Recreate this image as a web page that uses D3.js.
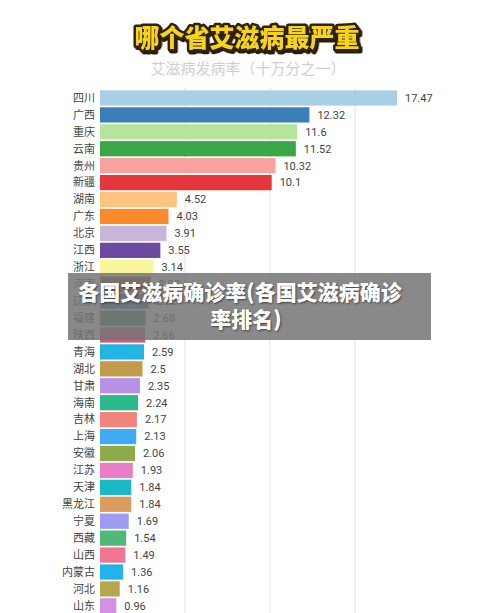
<!DOCTYPE html>
<html><head><meta charset="utf-8">
<script src="https://cdn.jsdelivr.net/npm/d3@7"></script>
<style>
html,body{margin:0;padding:0;background:#fff;}
svg{display:block;font-family:"Noto Sans CJK SC","Noto Sans",sans-serif;}
</style></head>
<body>
<svg id="c" width="500" height="613"></svg>
<script>
const provinces = ["四川","广西","重庆","云南","贵州","新疆","湖南","广东","北京","江西","浙江","河南","辽宁","福建","陕西","青海","湖北","甘肃","海南","吉林","上海","安徽","江苏","天津","黑龙江","宁夏","西藏","山西","内蒙古","河北","山东"];
const rates = [17.47,12.32,11.6,11.52,10.32,10.1,4.52,4.03,3.91,3.55,3.14,2.98,2.85,2.68,2.66,2.59,2.5,2.35,2.24,2.17,2.13,2.06,1.93,1.84,1.84,1.69,1.54,1.49,1.36,1.16,0.96];
const barColors = ["#a8cfe3","#3a7fb8","#b5e59a","#3aa645","#f7a1a1","#e4363b","#fcc381","#fb8a2b","#c8b5da","#6c4aa0","#f9f59a","#9a4a22","#4a6ab5","#3e8b50","#d05a84","#22b5e3","#c19b4a","#b990e8","#2bb88c","#f2857b","#40abf5","#8eab4c","#ea7ec6","#1bb8c5","#df9a5e","#9b9cf2","#52b87a","#ef7590","#22b2ec","#b6a64d","#d391e3"];
const gridTicks = [5,10,15];
const titleText = "哪个省艾滋病最严重";
const subtitleText = "艾滋病发病率（十万分之一）";
const overlayLines = ["各国艾滋病确诊率(各国艾滋病确诊","率排名)"];

const svg = d3.select("#c");
const defs = svg.append("defs");
const f = defs.append("filter").attr("id","ts").attr("x","-10%").attr("y","-30%").attr("width","120%").attr("height","160%");
f.append("feDropShadow").attr("dx",1.5).attr("dy",2).attr("stdDeviation",0.3).attr("flood-color","#2a1e05").attr("flood-opacity",1);

const x = d3.scaleLinear().domain([0,5]).range([100,185]);
const y = d3.scaleBand().domain(provinces).range([89.5, 89.5 + 31*16.93]).paddingInner(0.1).paddingOuter(0.05);

// gridlines
svg.append("g").selectAll("line").data(gridTicks).join("line")
  .attr("x1", d=>x(d)).attr("x2", d=>x(d))
  .attr("y1", 88).attr("y2", 613)
  .attr("stroke","#e6e6e6").attr("stroke-width",1.2);

// bars
svg.append("g").selectAll("rect").data(provinces).join("rect")
  .attr("x", x(0)).attr("y", d=>y(d))
  .attr("width", (d,i)=>x(rates[i])-x(0))
  .attr("height", y.bandwidth())
  .attr("fill", (d,i)=>barColors[i]);

// category labels
svg.append("g").selectAll("text").data(provinces).join("text")
  .attr("x", 95).attr("y", d=>y(d)+y.bandwidth()/2)
  .attr("dy","0.35em").attr("text-anchor","end")
  .attr("font-size",11).attr("fill","#444").text(d=>d);

// value labels
svg.append("g").selectAll("text").data(rates).join("text")
  .attr("x", d=>x(d)+8).attr("y", (d,i)=>y(provinces[i])+y.bandwidth()/2)
  .attr("dy","0.35em").attr("font-size",11).attr("fill","#444")
  .attr("font-family","Roboto, 'Noto Sans', sans-serif")
  .text(d=>d);

// title
svg.append("text").attr("x",247).attr("y",47).attr("text-anchor","middle")
  .attr("font-size",25).attr("font-weight",900)
  .attr("fill","#f7d41e").attr("stroke","#2e2208").attr("stroke-width",5)
  .attr("stroke-linejoin","round").attr("paint-order","stroke")
  .attr("filter","url(#ts)")
  .text(titleText);
svg.append("text").attr("x",248).attr("y",74).attr("text-anchor","middle")
  .attr("font-size",15).attr("fill","#cfcfcf").text(subtitleText);

// overlay banner
svg.append("rect").attr("x",68).attr("y",273).attr("width",363).attr("height",67)
  .attr("fill","rgba(118,118,118,0.86)");
svg.append("g").selectAll("text").data(overlayLines).join("text")
  .attr("x",(d,i)=> i===0 ? 240 : 246).attr("y",(d,i)=>300+i*27).attr("text-anchor","middle")
  .attr("font-size",21).attr("font-weight",900).attr("fill","#fff")
  .style("text-shadow","1px 1px 2px rgba(0,0,0,0.5)")
  .text(d=>d);
</script>
</body></html>
